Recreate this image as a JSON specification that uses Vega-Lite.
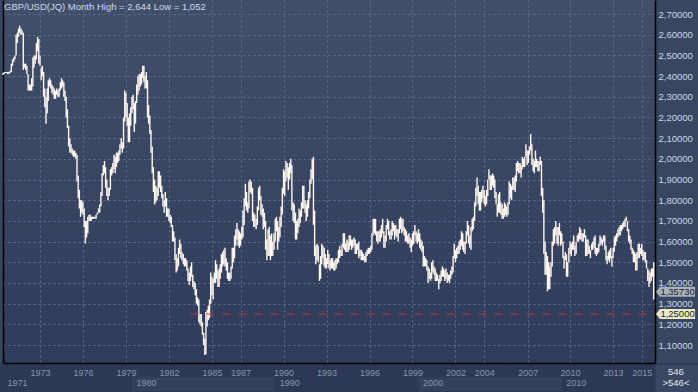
{
"$schema":"https://vega.github.io/schema/vega-lite/v6.json",
"width":652,"height":363,
"autosize":{"type":"none"},
"padding":{"left":3,"top":0,"right":43,"bottom":29},
"background":"#38465f",
"view":{"stroke":null,"fill":{"gradient":"linear","x1":0,"y1":0,"x2":0,"y2":1,"stops":[{"offset":0,"color":"#414f6a"},{"offset":1,"color":"#2e3c5a"}]}},
"title":{"text":"GBP/USD(JQ) Month High = 2,644 Low = 1,052","anchor":"start","frame":"group","offset":-11,"dy":8,"baseline":"alphabetic","dx":1,"font":"Liberation Sans","fontSize":9.5,"fontWeight":"normal","color":"#d0d9ea"},
"resolve":{"axis":{"x":"independent","y":"independent"}},
"datasets":{"fx":[
{"d":"1971-01","h":2.415,"l":2.405},{"d":"1971-02","h":2.42,"l":2.41},{"d":"1971-03","h":2.42,"l":2.415},{"d":"1971-04","h":2.42,"l":2.415},{"d":"1971-05","h":2.42,"l":2.41},{"d":"1971-06","h":2.42,"l":2.41},{"d":"1971-07","h":2.425,"l":2.415},{"d":"1971-08","h":2.46,"l":2.42},{"d":"1971-09","h":2.48,"l":2.45},{"d":"1971-10","h":2.49,"l":2.47},{"d":"1971-11","h":2.5,"l":2.48},{"d":"1971-12","h":2.6,"l":2.5},
{"d":"1972-01","h":2.61,"l":2.56},{"d":"1972-02","h":2.63,"l":2.59},{"d":"1972-03","h":2.644,"l":2.61},{"d":"1972-04","h":2.63,"l":2.6},{"d":"1972-05","h":2.62,"l":2.6},{"d":"1972-06","h":2.61,"l":2.43},{"d":"1972-07","h":2.46,"l":2.44},{"d":"1972-08","h":2.46,"l":2.43},{"d":"1972-09","h":2.45,"l":2.41},{"d":"1972-10","h":2.41,"l":2.33},{"d":"1972-11","h":2.36,"l":2.33},{"d":"1972-12","h":2.36,"l":2.33},
{"d":"1973-01","h":2.39,"l":2.33},{"d":"1973-02","h":2.49,"l":2.35},{"d":"1973-03","h":2.5,"l":2.44},{"d":"1973-04","h":2.5,"l":2.46},{"d":"1973-05","h":2.56,"l":2.48},{"d":"1973-06","h":2.59,"l":2.52},{"d":"1973-07","h":2.58,"l":2.46},{"d":"1973-08","h":2.5,"l":2.45},{"d":"1973-09","h":2.44,"l":2.38},{"d":"1973-10","h":2.45,"l":2.4},{"d":"1973-11","h":2.42,"l":2.3},{"d":"1973-12","h":2.34,"l":2.25},
{"d":"1974-01","h":2.3,"l":2.17},{"d":"1974-02","h":2.34,"l":2.22},{"d":"1974-03","h":2.38,"l":2.28},{"d":"1974-04","h":2.39,"l":2.35},{"d":"1974-05","h":2.38,"l":2.34},{"d":"1974-06","h":2.36,"l":2.32},{"d":"1974-07","h":2.35,"l":2.31},{"d":"1974-08","h":2.34,"l":2.29},{"d":"1974-09","h":2.33,"l":2.29},{"d":"1974-10","h":2.34,"l":2.31},{"d":"1974-11","h":2.33,"l":2.3},{"d":"1974-12","h":2.34,"l":2.3},
{"d":"1975-01","h":2.37,"l":2.33},{"d":"1975-02","h":2.39,"l":2.34},{"d":"1975-03","h":2.38,"l":2.35},{"d":"1975-04","h":2.37,"l":2.3},{"d":"1975-05","h":2.33,"l":2.28},{"d":"1975-06","h":2.3,"l":2.2},{"d":"1975-07","h":2.24,"l":2.15},{"d":"1975-08","h":2.16,"l":2.06},{"d":"1975-09","h":2.1,"l":2.03},{"d":"1975-10","h":2.07,"l":2.03},{"d":"1975-11","h":2.05,"l":2.02},{"d":"1975-12","h":2.04,"l":2.01},
{"d":"1976-01","h":2.04,"l":2.01},{"d":"1976-02","h":2.03,"l":2.0},{"d":"1976-03","h":2.02,"l":1.89},{"d":"1976-04","h":1.92,"l":1.81},{"d":"1976-05","h":1.85,"l":1.76},{"d":"1976-06","h":1.8,"l":1.72},{"d":"1976-07","h":1.8,"l":1.74},{"d":"1976-08","h":1.79,"l":1.73},{"d":"1976-09","h":1.76,"l":1.67},{"d":"1976-10","h":1.7,"l":1.59},{"d":"1976-11","h":1.7,"l":1.62},{"d":"1976-12","h":1.72,"l":1.64},
{"d":"1977-01","h":1.73,"l":1.7},{"d":"1977-02","h":1.73,"l":1.7},{"d":"1977-03","h":1.72,"l":1.7},{"d":"1977-04","h":1.72,"l":1.71},{"d":"1977-05","h":1.72,"l":1.71},{"d":"1977-06","h":1.72,"l":1.71},{"d":"1977-07","h":1.73,"l":1.71},{"d":"1977-08","h":1.74,"l":1.73},{"d":"1977-09","h":1.76,"l":1.74},{"d":"1977-10","h":1.78,"l":1.74},{"d":"1977-11","h":1.84,"l":1.77},{"d":"1977-12","h":1.93,"l":1.82},
{"d":"1978-01","h":1.97,"l":1.92},{"d":"1978-02","h":1.99,"l":1.93},{"d":"1978-03","h":1.96,"l":1.86},{"d":"1978-04","h":1.9,"l":1.82},{"d":"1978-05","h":1.86,"l":1.8},{"d":"1978-06","h":1.86,"l":1.82},{"d":"1978-07","h":1.95,"l":1.85},{"d":"1978-08","h":1.96,"l":1.92},{"d":"1978-09","h":1.98,"l":1.93},{"d":"1978-10","h":2.02,"l":1.95},{"d":"1978-11","h":2.01,"l":1.93},{"d":"1978-12","h":2.03,"l":1.96},
{"d":"1979-01","h":2.03,"l":1.98},{"d":"1979-02","h":2.04,"l":1.99},{"d":"1979-03","h":2.07,"l":2.02},{"d":"1979-04","h":2.1,"l":2.05},{"d":"1979-05","h":2.08,"l":2.03},{"d":"1979-06","h":2.2,"l":2.05},{"d":"1979-07","h":2.33,"l":2.18},{"d":"1979-08","h":2.32,"l":2.2},{"d":"1979-09","h":2.27,"l":2.16},{"d":"1979-10","h":2.2,"l":2.08},{"d":"1979-11","h":2.22,"l":2.08},{"d":"1979-12","h":2.25,"l":2.16},
{"d":"1980-01","h":2.3,"l":2.22},{"d":"1980-02","h":2.31,"l":2.24},{"d":"1980-03","h":2.27,"l":2.13},{"d":"1980-04","h":2.28,"l":2.17},{"d":"1980-05","h":2.36,"l":2.27},{"d":"1980-06","h":2.4,"l":2.31},{"d":"1980-07","h":2.41,"l":2.33},{"d":"1980-08","h":2.41,"l":2.35},{"d":"1980-09","h":2.42,"l":2.36},{"d":"1980-10","h":2.45,"l":2.39},{"d":"1980-11","h":2.45,"l":2.37},{"d":"1980-12","h":2.4,"l":2.34},
{"d":"1981-01","h":2.42,"l":2.34},{"d":"1981-02","h":2.38,"l":2.2},{"d":"1981-03","h":2.26,"l":2.17},{"d":"1981-04","h":2.21,"l":2.12},{"d":"1981-05","h":2.14,"l":2.03},{"d":"1981-06","h":2.06,"l":1.93},{"d":"1981-07","h":1.96,"l":1.84},{"d":"1981-08","h":1.9,"l":1.78},{"d":"1981-09","h":1.87,"l":1.79},{"d":"1981-10","h":1.86,"l":1.8},{"d":"1981-11","h":1.94,"l":1.82},{"d":"1981-12","h":1.94,"l":1.86},
{"d":"1982-01","h":1.92,"l":1.84},{"d":"1982-02","h":1.87,"l":1.81},{"d":"1982-03","h":1.83,"l":1.77},{"d":"1982-04","h":1.8,"l":1.74},{"d":"1982-05","h":1.84,"l":1.77},{"d":"1982-06","h":1.81,"l":1.72},{"d":"1982-07","h":1.76,"l":1.72},{"d":"1982-08","h":1.76,"l":1.7},{"d":"1982-09","h":1.73,"l":1.69},{"d":"1982-10","h":1.72,"l":1.67},{"d":"1982-11","h":1.68,"l":1.6},{"d":"1982-12","h":1.65,"l":1.6},
{"d":"1983-01","h":1.62,"l":1.51},{"d":"1983-02","h":1.54,"l":1.45},{"d":"1983-03","h":1.52,"l":1.46},{"d":"1983-04","h":1.57,"l":1.48},{"d":"1983-05","h":1.61,"l":1.54},{"d":"1983-06","h":1.59,"l":1.52},{"d":"1983-07","h":1.55,"l":1.51},{"d":"1983-08","h":1.54,"l":1.49},{"d":"1983-09","h":1.52,"l":1.48},{"d":"1983-10","h":1.52,"l":1.48},{"d":"1983-11","h":1.51,"l":1.46},{"d":"1983-12","h":1.47,"l":1.41},
{"d":"1984-01","h":1.45,"l":1.39},{"d":"1984-02","h":1.48,"l":1.41},{"d":"1984-03","h":1.5,"l":1.43},{"d":"1984-04","h":1.44,"l":1.38},{"d":"1984-05","h":1.41,"l":1.37},{"d":"1984-06","h":1.4,"l":1.34},{"d":"1984-07","h":1.37,"l":1.3},{"d":"1984-08","h":1.33,"l":1.29},{"d":"1984-09","h":1.32,"l":1.21},{"d":"1984-10","h":1.25,"l":1.2},{"d":"1984-11","h":1.25,"l":1.19},{"d":"1984-12","h":1.21,"l":1.15},
{"d":"1985-01","h":1.16,"l":1.1},{"d":"1985-02","h":1.13,"l":1.052},{"d":"1985-03","h":1.26,"l":1.055},{"d":"1985-04","h":1.27,"l":1.19},{"d":"1985-05","h":1.29,"l":1.22},{"d":"1985-06","h":1.32,"l":1.23},{"d":"1985-07","h":1.45,"l":1.3},{"d":"1985-08","h":1.43,"l":1.34},{"d":"1985-09","h":1.42,"l":1.32},{"d":"1985-10","h":1.45,"l":1.4},{"d":"1985-11","h":1.51,"l":1.4},{"d":"1985-12","h":1.49,"l":1.42},
{"d":"1986-01","h":1.46,"l":1.38},{"d":"1986-02","h":1.47,"l":1.38},{"d":"1986-03","h":1.49,"l":1.42},{"d":"1986-04","h":1.54,"l":1.45},{"d":"1986-05","h":1.55,"l":1.48},{"d":"1986-06","h":1.56,"l":1.49},{"d":"1986-07","h":1.57,"l":1.48},{"d":"1986-08","h":1.52,"l":1.46},{"d":"1986-09","h":1.5,"l":1.42},{"d":"1986-10","h":1.45,"l":1.41},{"d":"1986-11","h":1.45,"l":1.41},{"d":"1986-12","h":1.48,"l":1.42},
{"d":"1987-01","h":1.57,"l":1.47},{"d":"1987-02","h":1.57,"l":1.5},{"d":"1987-03","h":1.63,"l":1.52},{"d":"1987-04","h":1.66,"l":1.58},{"d":"1987-05","h":1.69,"l":1.61},{"d":"1987-06","h":1.66,"l":1.58},{"d":"1987-07","h":1.65,"l":1.57},{"d":"1987-08","h":1.64,"l":1.58},{"d":"1987-09","h":1.67,"l":1.61},{"d":"1987-10","h":1.75,"l":1.62},{"d":"1987-11","h":1.81,"l":1.68},{"d":"1987-12","h":1.88,"l":1.77},
{"d":"1988-01","h":1.84,"l":1.75},{"d":"1988-02","h":1.79,"l":1.74},{"d":"1988-03","h":1.89,"l":1.76},{"d":"1988-04","h":1.9,"l":1.84},{"d":"1988-05","h":1.89,"l":1.83},{"d":"1988-06","h":1.86,"l":1.7},{"d":"1988-07","h":1.74,"l":1.67},{"d":"1988-08","h":1.73,"l":1.67},{"d":"1988-09","h":1.71,"l":1.66},{"d":"1988-10","h":1.77,"l":1.68},{"d":"1988-11","h":1.86,"l":1.75},{"d":"1988-12","h":1.87,"l":1.8},
{"d":"1989-01","h":1.82,"l":1.73},{"d":"1989-02","h":1.78,"l":1.72},{"d":"1989-03","h":1.76,"l":1.66},{"d":"1989-04","h":1.74,"l":1.67},{"d":"1989-05","h":1.7,"l":1.56},{"d":"1989-06","h":1.61,"l":1.51},{"d":"1989-07","h":1.66,"l":1.53},{"d":"1989-08","h":1.67,"l":1.53},{"d":"1989-09","h":1.63,"l":1.51},{"d":"1989-10","h":1.64,"l":1.53},{"d":"1989-11","h":1.6,"l":1.53},{"d":"1989-12","h":1.64,"l":1.56},
{"d":"1990-01","h":1.71,"l":1.6},{"d":"1990-02","h":1.72,"l":1.65},{"d":"1990-03","h":1.7,"l":1.56},{"d":"1990-04","h":1.67,"l":1.6},{"d":"1990-05","h":1.72,"l":1.62},{"d":"1990-06","h":1.77,"l":1.67},{"d":"1990-07","h":1.86,"l":1.73},{"d":"1990-08","h":1.95,"l":1.83},{"d":"1990-09","h":1.94,"l":1.82},{"d":"1990-10","h":1.99,"l":1.89},{"d":"1990-11","h":1.98,"l":1.91},{"d":"1990-12","h":1.96,"l":1.85},
{"d":"1991-01","h":1.98,"l":1.9},{"d":"1991-02","h":2.0,"l":1.93},{"d":"1991-03","h":1.97,"l":1.75},{"d":"1991-04","h":1.79,"l":1.7},{"d":"1991-05","h":1.78,"l":1.69},{"d":"1991-06","h":1.74,"l":1.61},{"d":"1991-07","h":1.7,"l":1.61},{"d":"1991-08","h":1.71,"l":1.64},{"d":"1991-09","h":1.76,"l":1.67},{"d":"1991-10","h":1.75,"l":1.69},{"d":"1991-11","h":1.79,"l":1.72},{"d":"1991-12","h":1.87,"l":1.76},
{"d":"1992-01","h":1.87,"l":1.76},{"d":"1992-02","h":1.8,"l":1.74},{"d":"1992-03","h":1.78,"l":1.7},{"d":"1992-04","h":1.8,"l":1.72},{"d":"1992-05","h":1.84,"l":1.76},{"d":"1992-06","h":1.9,"l":1.81},{"d":"1992-07","h":1.95,"l":1.88},{"d":"1992-08","h":2.0,"l":1.9},{"d":"1992-09","h":2.01,"l":1.68},{"d":"1992-10","h":1.75,"l":1.53},{"d":"1992-11","h":1.58,"l":1.49},{"d":"1992-12","h":1.59,"l":1.51},
{"d":"1993-01","h":1.58,"l":1.5},{"d":"1993-02","h":1.49,"l":1.41},{"d":"1993-03","h":1.53,"l":1.42},{"d":"1993-04","h":1.59,"l":1.49},{"d":"1993-05","h":1.58,"l":1.52},{"d":"1993-06","h":1.57,"l":1.48},{"d":"1993-07","h":1.54,"l":1.47},{"d":"1993-08","h":1.52,"l":1.47},{"d":"1993-09","h":1.56,"l":1.49},{"d":"1993-10","h":1.54,"l":1.47},{"d":"1993-11","h":1.51,"l":1.46},{"d":"1993-12","h":1.52,"l":1.47},
{"d":"1994-01","h":1.52,"l":1.47},{"d":"1994-02","h":1.5,"l":1.46},{"d":"1994-03","h":1.51,"l":1.46},{"d":"1994-04","h":1.52,"l":1.47},{"d":"1994-05","h":1.52,"l":1.49},{"d":"1994-06","h":1.56,"l":1.5},{"d":"1994-07","h":1.58,"l":1.52},{"d":"1994-08","h":1.56,"l":1.53},{"d":"1994-09","h":1.59,"l":1.53},{"d":"1994-10","h":1.64,"l":1.57},{"d":"1994-11","h":1.64,"l":1.56},{"d":"1994-12","h":1.59,"l":1.55},
{"d":"1995-01","h":1.61,"l":1.55},{"d":"1995-02","h":1.6,"l":1.55},{"d":"1995-03","h":1.63,"l":1.56},{"d":"1995-04","h":1.63,"l":1.58},{"d":"1995-05","h":1.61,"l":1.56},{"d":"1995-06","h":1.61,"l":1.57},{"d":"1995-07","h":1.62,"l":1.58},{"d":"1995-08","h":1.61,"l":1.54},{"d":"1995-09","h":1.59,"l":1.54},{"d":"1995-10","h":1.59,"l":1.56},{"d":"1995-11","h":1.6,"l":1.52},{"d":"1995-12","h":1.56,"l":1.53},
{"d":"1996-01","h":1.56,"l":1.51},{"d":"1996-02","h":1.55,"l":1.51},{"d":"1996-03","h":1.54,"l":1.51},{"d":"1996-04","h":1.53,"l":1.5},{"d":"1996-05","h":1.55,"l":1.5},{"d":"1996-06","h":1.56,"l":1.53},{"d":"1996-07","h":1.57,"l":1.54},{"d":"1996-08","h":1.57,"l":1.54},{"d":"1996-09","h":1.58,"l":1.55},{"d":"1996-10","h":1.64,"l":1.56},{"d":"1996-11","h":1.71,"l":1.63},{"d":"1996-12","h":1.71,"l":1.64},
{"d":"1997-01","h":1.71,"l":1.63},{"d":"1997-02","h":1.65,"l":1.6},{"d":"1997-03","h":1.65,"l":1.59},{"d":"1997-04","h":1.65,"l":1.6},{"d":"1997-05","h":1.66,"l":1.6},{"d":"1997-06","h":1.68,"l":1.62},{"d":"1997-07","h":1.71,"l":1.64},{"d":"1997-08","h":1.65,"l":1.57},{"d":"1997-09","h":1.63,"l":1.57},{"d":"1997-10","h":1.68,"l":1.6},{"d":"1997-11","h":1.71,"l":1.66},{"d":"1997-12","h":1.7,"l":1.63},
{"d":"1998-01","h":1.65,"l":1.61},{"d":"1998-02","h":1.66,"l":1.61},{"d":"1998-03","h":1.7,"l":1.63},{"d":"1998-04","h":1.69,"l":1.65},{"d":"1998-05","h":1.68,"l":1.61},{"d":"1998-06","h":1.68,"l":1.63},{"d":"1998-07","h":1.66,"l":1.62},{"d":"1998-08","h":1.66,"l":1.6},{"d":"1998-09","h":1.71,"l":1.64},{"d":"1998-10","h":1.72,"l":1.66},{"d":"1998-11","h":1.71,"l":1.64},{"d":"1998-12","h":1.71,"l":1.65},
{"d":"1999-01","h":1.67,"l":1.63},{"d":"1999-02","h":1.66,"l":1.6},{"d":"1999-03","h":1.65,"l":1.6},{"d":"1999-04","h":1.63,"l":1.59},{"d":"1999-05","h":1.64,"l":1.59},{"d":"1999-06","h":1.62,"l":1.57},{"d":"1999-07","h":1.61,"l":1.55},{"d":"1999-08","h":1.64,"l":1.58},{"d":"1999-09","h":1.65,"l":1.59},{"d":"1999-10","h":1.68,"l":1.63},{"d":"1999-11","h":1.65,"l":1.6},{"d":"1999-12","h":1.64,"l":1.59},
{"d":"2000-01","h":1.66,"l":1.6},{"d":"2000-02","h":1.64,"l":1.57},{"d":"2000-03","h":1.61,"l":1.56},{"d":"2000-04","h":1.6,"l":1.55},{"d":"2000-05","h":1.58,"l":1.48},{"d":"2000-06","h":1.53,"l":1.48},{"d":"2000-07","h":1.52,"l":1.48},{"d":"2000-08","h":1.51,"l":1.46},{"d":"2000-09","h":1.48,"l":1.4},{"d":"2000-10","h":1.47,"l":1.42},{"d":"2000-11","h":1.45,"l":1.41},{"d":"2000-12","h":1.5,"l":1.42},
{"d":"2001-01","h":1.51,"l":1.45},{"d":"2001-02","h":1.48,"l":1.44},{"d":"2001-03","h":1.47,"l":1.41},{"d":"2001-04","h":1.45,"l":1.41},{"d":"2001-05","h":1.44,"l":1.41},{"d":"2001-06","h":1.42,"l":1.37},{"d":"2001-07","h":1.44,"l":1.4},{"d":"2001-08","h":1.46,"l":1.41},{"d":"2001-09","h":1.48,"l":1.43},{"d":"2001-10","h":1.47,"l":1.43},{"d":"2001-11","h":1.46,"l":1.41},{"d":"2001-12","h":1.47,"l":1.42},
{"d":"2002-01","h":1.45,"l":1.4},{"d":"2002-02","h":1.44,"l":1.41},{"d":"2002-03","h":1.44,"l":1.4},{"d":"2002-04","h":1.46,"l":1.42},{"d":"2002-05","h":1.48,"l":1.44},{"d":"2002-06","h":1.53,"l":1.45},{"d":"2002-07","h":1.59,"l":1.52},{"d":"2002-08","h":1.56,"l":1.5},{"d":"2002-09","h":1.57,"l":1.52},{"d":"2002-10","h":1.58,"l":1.54},{"d":"2002-11","h":1.6,"l":1.54},{"d":"2002-12","h":1.61,"l":1.56},
{"d":"2003-01","h":1.65,"l":1.58},{"d":"2003-02","h":1.64,"l":1.56},{"d":"2003-03","h":1.6,"l":1.55},{"d":"2003-04","h":1.6,"l":1.54},{"d":"2003-05","h":1.65,"l":1.59},{"d":"2003-06","h":1.7,"l":1.63},{"d":"2003-07","h":1.68,"l":1.59},{"d":"2003-08","h":1.63,"l":1.57},{"d":"2003-09","h":1.67,"l":1.56},{"d":"2003-10","h":1.71,"l":1.65},{"d":"2003-11","h":1.72,"l":1.66},{"d":"2003-12","h":1.79,"l":1.7},
{"d":"2004-01","h":1.86,"l":1.77},{"d":"2004-02","h":1.91,"l":1.82},{"d":"2004-03","h":1.87,"l":1.78},{"d":"2004-04","h":1.84,"l":1.75},{"d":"2004-05","h":1.84,"l":1.75},{"d":"2004-06","h":1.85,"l":1.79},{"d":"2004-07","h":1.87,"l":1.81},{"d":"2004-08","h":1.85,"l":1.78},{"d":"2004-09","h":1.82,"l":1.77},{"d":"2004-10","h":1.85,"l":1.78},{"d":"2004-11","h":1.9,"l":1.82},{"d":"2004-12","h":1.95,"l":1.9},
{"d":"2005-01","h":1.92,"l":1.85},{"d":"2005-02","h":1.92,"l":1.85},{"d":"2005-03","h":1.93,"l":1.87},{"d":"2005-04","h":1.92,"l":1.86},{"d":"2005-05","h":1.9,"l":1.81},{"d":"2005-06","h":1.84,"l":1.78},{"d":"2005-07","h":1.78,"l":1.72},{"d":"2005-08","h":1.83,"l":1.74},{"d":"2005-09","h":1.84,"l":1.74},{"d":"2005-10","h":1.79,"l":1.73},{"d":"2005-11","h":1.78,"l":1.71},{"d":"2005-12","h":1.76,"l":1.71},
{"d":"2006-01","h":1.79,"l":1.72},{"d":"2006-02","h":1.78,"l":1.73},{"d":"2006-03","h":1.77,"l":1.72},{"d":"2006-04","h":1.79,"l":1.73},{"d":"2006-05","h":1.89,"l":1.78},{"d":"2006-06","h":1.88,"l":1.81},{"d":"2006-07","h":1.87,"l":1.8},{"d":"2006-08","h":1.91,"l":1.85},{"d":"2006-09","h":1.91,"l":1.85},{"d":"2006-10","h":1.92,"l":1.84},{"d":"2006-11","h":1.98,"l":1.89},{"d":"2006-12","h":1.99,"l":1.94},
{"d":"2007-01","h":1.98,"l":1.93},{"d":"2007-02","h":1.98,"l":1.93},{"d":"2007-03","h":1.97,"l":1.91},{"d":"2007-04","h":2.01,"l":1.95},{"d":"2007-05","h":2.0,"l":1.96},{"d":"2007-06","h":2.01,"l":1.96},{"d":"2007-07","h":2.07,"l":2.01},{"d":"2007-08","h":2.04,"l":1.97},{"d":"2007-09","h":2.04,"l":1.98},{"d":"2007-10","h":2.06,"l":2.02},{"d":"2007-11","h":2.12,"l":2.04},{"d":"2007-12","h":2.07,"l":1.97},
{"d":"2008-01","h":2.0,"l":1.94},{"d":"2008-02","h":1.99,"l":1.93},{"d":"2008-03","h":2.04,"l":1.96},{"d":"2008-04","h":2.0,"l":1.96},{"d":"2008-05","h":1.99,"l":1.94},{"d":"2008-06","h":1.99,"l":1.94},{"d":"2008-07","h":2.01,"l":1.97},{"d":"2008-08","h":1.99,"l":1.82},{"d":"2008-09","h":1.86,"l":1.74},{"d":"2008-10","h":1.8,"l":1.54},{"d":"2008-11","h":1.6,"l":1.44},{"d":"2008-12","h":1.55,"l":1.44},
{"d":"2009-01","h":1.53,"l":1.36},{"d":"2009-02","h":1.5,"l":1.37},{"d":"2009-03","h":1.48,"l":1.37},{"d":"2009-04","h":1.5,"l":1.43},{"d":"2009-05","h":1.6,"l":1.48},{"d":"2009-06","h":1.66,"l":1.58},{"d":"2009-07","h":1.67,"l":1.59},{"d":"2009-08","h":1.7,"l":1.63},{"d":"2009-09","h":1.67,"l":1.59},{"d":"2009-10","h":1.67,"l":1.58},{"d":"2009-11","h":1.69,"l":1.63},{"d":"2009-12","h":1.65,"l":1.58},
{"d":"2010-01","h":1.64,"l":1.59},{"d":"2010-02","h":1.6,"l":1.52},{"d":"2010-03","h":1.53,"l":1.47},{"d":"2010-04","h":1.55,"l":1.51},{"d":"2010-05","h":1.54,"l":1.43},{"d":"2010-06","h":1.5,"l":1.43},{"d":"2010-07","h":1.57,"l":1.5},{"d":"2010-08","h":1.6,"l":1.54},{"d":"2010-09","h":1.59,"l":1.53},{"d":"2010-10","h":1.6,"l":1.56},{"d":"2010-11","h":1.63,"l":1.56},{"d":"2010-12","h":1.58,"l":1.53},
{"d":"2011-01","h":1.6,"l":1.54},{"d":"2011-02","h":1.63,"l":1.6},{"d":"2011-03","h":1.64,"l":1.6},{"d":"2011-04","h":1.67,"l":1.61},{"d":"2011-05","h":1.66,"l":1.61},{"d":"2011-06","h":1.64,"l":1.6},{"d":"2011-07","h":1.64,"l":1.6},{"d":"2011-08","h":1.66,"l":1.62},{"d":"2011-09","h":1.63,"l":1.53},{"d":"2011-10","h":1.61,"l":1.53},{"d":"2011-11","h":1.61,"l":1.54},{"d":"2011-12","h":1.58,"l":1.54},
{"d":"2012-01","h":1.56,"l":1.52},{"d":"2012-02","h":1.59,"l":1.56},{"d":"2012-03","h":1.6,"l":1.56},{"d":"2012-04","h":1.62,"l":1.57},{"d":"2012-05","h":1.63,"l":1.54},{"d":"2012-06","h":1.57,"l":1.53},{"d":"2012-07","h":1.57,"l":1.54},{"d":"2012-08","h":1.59,"l":1.55},{"d":"2012-09","h":1.63,"l":1.58},{"d":"2012-10","h":1.62,"l":1.59},{"d":"2012-11","h":1.61,"l":1.58},{"d":"2012-12","h":1.63,"l":1.6},
{"d":"2013-01","h":1.63,"l":1.56},{"d":"2013-02","h":1.58,"l":1.51},{"d":"2013-03","h":1.53,"l":1.49},{"d":"2013-04","h":1.55,"l":1.51},{"d":"2013-05","h":1.56,"l":1.5},{"d":"2013-06","h":1.57,"l":1.52},{"d":"2013-07","h":1.53,"l":1.48},{"d":"2013-08","h":1.57,"l":1.52},{"d":"2013-09","h":1.62,"l":1.55},{"d":"2013-10","h":1.63,"l":1.58},{"d":"2013-11","h":1.64,"l":1.6},{"d":"2013-12","h":1.66,"l":1.62},
{"d":"2014-01","h":1.67,"l":1.63},{"d":"2014-02","h":1.68,"l":1.63},{"d":"2014-03","h":1.68,"l":1.65},{"d":"2014-04","h":1.69,"l":1.66},{"d":"2014-05","h":1.7,"l":1.67},{"d":"2014-06","h":1.71,"l":1.67},{"d":"2014-07","h":1.72,"l":1.7},{"d":"2014-08","h":1.7,"l":1.65},{"d":"2014-09","h":1.66,"l":1.6},{"d":"2014-10","h":1.63,"l":1.59},{"d":"2014-11","h":1.61,"l":1.56},{"d":"2014-12","h":1.57,"l":1.54},
{"d":"2015-01","h":1.56,"l":1.5},{"d":"2015-02","h":1.55,"l":1.5},{"d":"2015-03","h":1.54,"l":1.46},{"d":"2015-04","h":1.55,"l":1.46},{"d":"2015-05","h":1.59,"l":1.52},{"d":"2015-06","h":1.59,"l":1.52},{"d":"2015-07","h":1.57,"l":1.54},{"d":"2015-08","h":1.59,"l":1.53},{"d":"2015-09","h":1.56,"l":1.51},{"d":"2015-10","h":1.55,"l":1.51},{"d":"2015-11","h":1.55,"l":1.5},{"d":"2015-12","h":1.51,"l":1.47},
{"d":"2016-01","h":1.47,"l":1.41},{"d":"2016-02","h":1.46,"l":1.38},{"d":"2016-03","h":1.45,"l":1.4},{"d":"2016-04","h":1.47,"l":1.41},{"d":"2016-05","h":1.47,"l":1.43},{"d":"2016-06","h":1.5,"l":1.32}
]},
"layer":[
{"data":{"values":[{"k":"strip"}]},
 "mark":{"type":"rect","color":"#2c3954"},
 "encoding":{
  "x":{"datum":{"year":1970,"month":9,"date":1,"utc":true},"type":"temporal","axis":null},
  "x2":{"datum":{"year":2019,"month":8,"date":1,"utc":true}},
  "y":{"datum":1.013,"type":"quantitative","axis":null},
  "y2":{"datum":0.87}}},
{"data":{"values":[{"k":"corner"}]},
 "mark":{"type":"rect","color":"#3b4863"},
 "encoding":{
  "x":{"datum":{"year":2016,"month":7,"date":20,"utc":true},"type":"temporal","axis":null},
  "x2":{"datum":{"year":2019,"month":8,"date":1,"utc":true}},
  "y":{"datum":1.005,"type":"quantitative","axis":null},
  "y2":{"datum":0.87}}},
{"data":{"values":[{"a":"1980-01-01","b":"1990-01-01"},{"a":"2000-01-01","b":"2010-01-01"}]},
 "mark":{"type":"rect","color":"#33415d"},
 "encoding":{
  "x":{"field":"a","type":"temporal","axis":{"orient":"bottom","zindex":1,"values":[{"year":1971,"month":1,"date":1,"utc":true},{"year":1980,"month":1,"date":1,"utc":true},{"year":1990,"month":1,"date":1,"utc":true},{"year":2000,"month":1,"date":1,"utc":true},{"year":2010,"month":1,"date":1,"utc":true}],"format":"%Y","labelAlign":"left","labelBaseline":"middle","labelPadding":19,"labelOffset":4,"labelFlush":false,"labelOverlap":false,"labelFont":"Liberation Sans","labelFontSize":9,"labelColor":"#8795ae","domain":false,"ticks":false,"grid":false,"title":null}},
  "x2":{"field":"b"},
  "y":{"datum":0.945,"type":"quantitative","axis":null},
  "y2":{"datum":0.878}}},
{"data":{"name":"fx"},
 "mark":{"type":"rule","color":"#fff6ef","strokeWidth":1.4},
 "encoding":{
  "x":{"field":"d","type":"temporal","scale":{"type":"utc","domain":[{"year":1971,"month":1,"date":1,"utc":true},{"year":2016,"month":7,"date":4,"utc":true}]},
   "axis":{"orient":"bottom","zindex":1,"values":[{"year":1973,"month":8,"date":1,"utc":true},{"year":1976,"month":8,"date":1,"utc":true},{"year":1979,"month":8,"date":1,"utc":true},{"year":1982,"month":8,"date":1,"utc":true},{"year":1985,"month":8,"date":1,"utc":true},{"year":1987,"month":8,"date":1,"utc":true},{"year":1990,"month":8,"date":1,"utc":true},{"year":1993,"month":8,"date":1,"utc":true},{"year":1996,"month":8,"date":1,"utc":true},{"year":1999,"month":8,"date":1,"utc":true},{"year":2002,"month":8,"date":1,"utc":true},{"year":2004,"month":8,"date":1,"utc":true},{"year":2007,"month":8,"date":15,"utc":true},{"year":2010,"month":8,"date":1,"utc":true},{"year":2013,"month":8,"date":1,"utc":true},{"year":2015,"month":8,"date":1,"utc":true}],
    "format":"%Y","labelBaseline":"middle","labelPadding":9,"labelFlush":false,"labelOverlap":false,"labelFont":"Liberation Sans","labelFontSize":9,"labelColor":"#8795ae","ticks":false,"domainColor":"#000000","domainWidth":1.6,"grid":false,"title":null}},
  "y":{"field":"l","type":"quantitative","scale":{"domain":[1.013,2.768],"zero":false,"nice":false},
   "axis":{"orient":"right","values":[1.1,1.2,1.3,1.4,1.5,1.6,1.7,1.8,1.9,2.0,2.1,2.2,2.3,2.4,2.5,2.6,2.7],"labelExpr":"replace(format(datum.value,'.5f'),'.',',')","labelFont":"Liberation Sans","labelFontSize":9.5,"labelColor":"#cdd6e8","labelPadding":3,"ticks":false,"domainColor":"#000000","domainWidth":1.6,"grid":false,"title":null}},
  "y2":{"field":"h"}}},
{"data":{"values":[{"k":"level"}]},
 "mark":{"type":"rule","color":"#c8323c","strokeDash":[8,8],"strokeWidth":1.2},
 "encoding":{
  "x":{"datum":{"year":1984,"month":2,"date":1,"utc":true},"type":"temporal","axis":{"orient":"bottom","values":[{"year":1973,"month":8,"date":1,"utc":true},{"year":1976,"month":8,"date":1,"utc":true},{"year":1979,"month":8,"date":1,"utc":true},{"year":1982,"month":8,"date":1,"utc":true},{"year":1985,"month":8,"date":1,"utc":true},{"year":1987,"month":8,"date":1,"utc":true},{"year":1990,"month":8,"date":1,"utc":true},{"year":1993,"month":8,"date":1,"utc":true},{"year":1996,"month":8,"date":1,"utc":true},{"year":1999,"month":8,"date":1,"utc":true},{"year":2002,"month":8,"date":1,"utc":true},{"year":2004,"month":8,"date":1,"utc":true},{"year":2007,"month":8,"date":15,"utc":true},{"year":2010,"month":8,"date":1,"utc":true},{"year":2013,"month":8,"date":1,"utc":true},{"year":2015,"month":8,"date":1,"utc":true}],"labels":false,"ticks":false,"domain":false,"grid":true,"gridColor":"#5e6e90","gridDash":[2,3],"gridWidth":1,"title":null}},
  "x2":{"datum":{"year":2016,"month":7,"date":4,"utc":true}},
  "y":{"datum":1.25,"type":"quantitative","axis":{"orient":"left","values":[1.1,1.2,1.3,1.4,1.5,1.6,1.7,1.8,1.9,2.0,2.1,2.2,2.3,2.4,2.5,2.6,2.7],"labels":false,"ticks":false,"grid":true,"gridColor":"#5e6e90","gridDash":[2,3],"gridWidth":1,"domainColor":"#000000","domainWidth":1.6,"title":null}}}},
{"data":{"values":[{"kind":"last","v":1.3573,"t":"1,35730"},{"kind":"level","v":1.25,"t":"1,25000"}]},
 "mark":{"type":"point","filled":true,"opacity":1,"shape":"M-1,0L-0.8,-0.26L1,-0.26L1,0.26L-0.8,0.26Z","size":1521},
 "encoding":{
  "x":{"datum":{"year":2017,"month":12,"date":10,"utc":true},"type":"temporal","axis":null},
  "y":{"field":"v","type":"quantitative","axis":null},
  "color":{"field":"kind","type":"nominal","scale":{"domain":["last","level"],"range":["#a9b1bd","#ebe9c6"]},"legend":null}}},
{"data":{"values":[{"kind":"last","v":1.3573,"t":"1,35730"},{"kind":"level","v":1.25,"t":"1,25000"}]},
 "mark":{"type":"text","font":"Liberation Sans","fontSize":9.5,"color":"#1e222a","align":"center","baseline":"middle","dx":2},
 "encoding":{
  "x":{"datum":{"year":2017,"month":12,"date":10,"utc":true},"type":"temporal","axis":null},
  "y":{"field":"v","type":"quantitative","axis":null},
  "text":{"field":"t"}}},
{"data":{"values":[{"t":"546"}]},
 "mark":{"type":"text","font":"Liberation Sans","fontSize":9.5,"color":"#e2e8f2","align":"center","baseline":"middle"},
 "encoding":{
  "x":{"datum":{"year":2017,"month":12,"date":20,"utc":true},"type":"temporal","axis":null},
  "y":{"datum":0.9695,"type":"quantitative","axis":null},
  "text":{"field":"t"}}},
{"data":{"values":[{"t":">546<"}]},
 "mark":{"type":"text","font":"Liberation Sans","fontSize":9.5,"color":"#e2e8f2","align":"center","baseline":"middle"},
 "encoding":{
  "x":{"datum":{"year":2017,"month":12,"date":20,"utc":true},"type":"temporal","axis":null},
  "y":{"datum":0.9163,"type":"quantitative","axis":null},
  "text":{"field":"t"}}}
]
}
